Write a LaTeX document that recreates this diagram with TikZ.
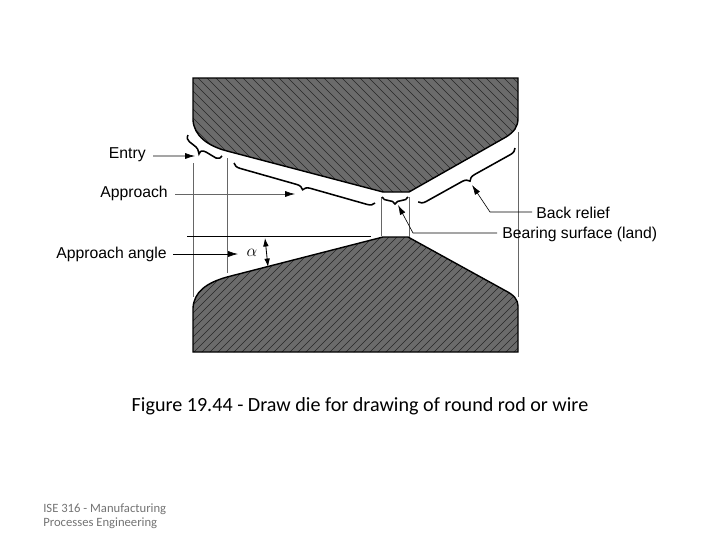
\documentclass[tikz,border=0pt]{standalone}
\usepackage{fontspec}
\setmainfont{Liberation Sans}
\newfontfamily\slidefont{Carlito}
\usetikzlibrary{decorations.pathreplacing, arrows.meta}
\tikzset{>={Latex[length=7pt, width=4.2pt]}}
\tikzset{
    label/.style={inner sep=0pt, font=\fontsize{11.2}{13}\selectfont},
    ext/.style={gray!80!black, line width=0.5pt},
    lead/.style={->, line width=0.45pt},
    hatch/.style={black!85, line width=0.45pt},
    curly/.style={line width=1.1pt, decorate, decoration={brace, amplitude=5pt}},
    die/.style={fill=black!58, draw=none},
    edge/.style={line width=1pt}
}
\begin{document}
\begin{tikzpicture}[x=0.025cm, y=-0.025cm]
    \useasboundingbox (0,0) rectangle (720,540);

    % Coordinates
    \coordinate (entryend) at (195,156);
    \coordinate (append) at (295,194);
    \coordinate (angleend) at (238,254);
    \coordinate (reliefbend) at (490,212);
    \coordinate (reliefend) at (472,185);
    \coordinate (landbend) at (413,233);
    \coordinate (landend) at (398,205);
    \coordinate (anglea) at (265,238);
    \coordinate (angleb) at (268,267);

    % Upper die
    \def\upperdie{(193,78) -- (193,120) .. controls (194,136) and (208,146) .. (227,151) -- (383,192) -- (409,192) -- (506,137) .. controls (514,132) and (518,127) .. (518,118) -- (518,78) -- cycle}
    \fill[die] \upperdie;
    \begin{scope}
        \clip \upperdie;
        \foreach \h in {72,81,...,520}
            \draw[hatch] (\h,78) -- ++(116,116);
    \end{scope}
    \draw[edge] \upperdie;

    % Lower die
    \def\lowerdie{(193,352) -- (193,308) .. controls (194,292) and (206,283) .. (227,277) -- (383,237) -- (408,237) -- (506,291) .. controls (514,295) and (518,300) .. (518,306) -- (518,352) -- cycle}
    \fill[die] \lowerdie;
    \begin{scope}
        \clip \lowerdie;
        \foreach \h in {72,80,...,520}
            \draw[hatch] (\h,354) -- ++(118,-118);
    \end{scope}
    \draw[edge] \lowerdie;

    % Extension lines
    \draw[ext] (193,163) -- (193,297);
    \draw[ext] (227,158) -- (227,273);
    \draw[ext] (381,197) -- (381,236);
    \draw[ext] (409,197) -- (409,237);
    \draw[ext] (518,132) -- (518,297);
    \draw[line width=0.7pt] (187,236) -- (371,236);

    % Braces
    \draw[line width=1.1pt] (188,135) .. controls (185,141) and (192,143) .. (196,147) .. controls (199,150) and (198,152) .. (199,154) .. controls (200,151) and (202,150) .. (206,152) -- (216,158) .. controls (219,159) and (221,158) .. (222,156);
    \draw[curly] (375,203) -- (234,163);
    \draw[curly] (408,197) -- (382,197);
    \draw[curly] (515,148) -- (418,202);

    % Labels
    \node[label, anchor=east] (entry) at (146,154.5) {Entry};
    \node[label, anchor=east] (approach) at (168,193) {Approach};
    \node[label, anchor=east] (angle) at (167,254.5) {Approach angle};
    \node[label, anchor=west] (relief) at (536,212.5) {Back relief};
    \node[label, anchor=west] (land) at (502,234.5) {Bearing surface (land)};
    \node[inner sep=0pt, font=\fontsize{12}{14}\selectfont] (alpha) at (252,253) {$\alpha$};

    % Leaders
    \draw[lead] (entry.east) ++(7,1.5) -- (entryend);
    \draw[lead, gray!80!black, -{Latex[length=7pt, width=4.2pt, black]}] (approach.east) ++(7,1) -- (append);
    \draw[lead] (angle.east) ++(6,-0.5) -- (angleend);
    \draw[lead] (relief.west) ++(-4,-0.5) -- (reliefbend) -- (reliefend);
    \draw[lead] (land.west) ++(-5,-1.5) -- (landbend) -- (landend);
    \draw[<->, line width=0.6pt, >={Latex[length=6pt, width=4pt]}] (anglea) -- (angleb);

    % Text
    \node[inner sep=0pt, font=\slidefont\fontsize{14.3}{17}\selectfont] (caption) at (360,406) {Figure 19.44 - Draw die for drawing of round rod or wire};
    \node[inner sep=0pt, anchor=north west, align=left, text=black!55, font=\slidefont\fontsize{9}{10}\selectfont] (footer) at (43,503) {ISE 316 - Manufacturing\\Processes Engineering};
\end{tikzpicture}
\end{document}
